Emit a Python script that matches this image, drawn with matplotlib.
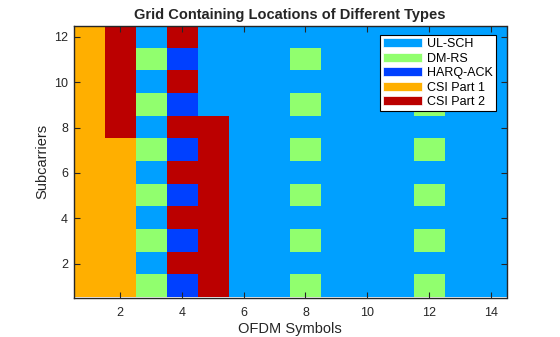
import matplotlib
matplotlib.use("Agg")
import matplotlib.pyplot as plt
from matplotlib.colors import ListedColormap
from matplotlib.patches import Patch

plt.rcParams["font.family"] = ["Liberation Sans", "DejaVu Sans"]

# resource types, in code order 0..4
type_names = ["UL-SCH", "DM-RS", "HARQ-ACK", "CSI Part 1", "CSI Part 2"]
type_colors = ["#00A0FF", "#91FF6E", "#0040FF", "#FFAF00", "#BB0000"]

# grid of type codes, row 1 (subcarrier 1) first, columns = OFDM symbols 1..14
grid = [
    [3, 3, 1, 2, 4, 0, 0, 1, 0, 0, 0, 1, 0, 0],
    [3, 3, 0, 4, 4, 0, 0, 0, 0, 0, 0, 0, 0, 0],
    [3, 3, 1, 2, 4, 0, 0, 1, 0, 0, 0, 1, 0, 0],
    [3, 3, 0, 4, 4, 0, 0, 0, 0, 0, 0, 0, 0, 0],
    [3, 3, 1, 2, 4, 0, 0, 1, 0, 0, 0, 1, 0, 0],
    [3, 3, 0, 4, 4, 0, 0, 0, 0, 0, 0, 0, 0, 0],
    [3, 3, 1, 2, 4, 0, 0, 1, 0, 0, 0, 1, 0, 0],
    [3, 4, 0, 4, 4, 0, 0, 0, 0, 0, 0, 0, 0, 0],
    [3, 4, 1, 2, 0, 0, 0, 1, 0, 0, 0, 1, 0, 0],
    [3, 4, 0, 4, 0, 0, 0, 0, 0, 0, 0, 0, 0, 0],
    [3, 4, 1, 2, 0, 0, 0, 1, 0, 0, 0, 1, 0, 0],
    [3, 4, 0, 4, 0, 0, 0, 0, 0, 0, 0, 0, 0, 0],
]
n_rows = len(grid)
n_cols = len(grid[0])

fig = plt.figure(figsize=(5.6, 3.37), dpi=100)
ax = fig.add_axes([73.5 / 560, 1 - 297.5 / 337, (506.5 - 73.5) / 560, (297.5 - 25.5) / 337])

cmap = ListedColormap(type_colors)
ax.imshow(grid, cmap=cmap, vmin=-0.5, vmax=len(type_colors) - 0.5, origin="lower",
          extent=[0.5, n_cols + 0.5, 0.5, n_rows + 0.5], aspect="auto", interpolation="nearest")

ax.set_xticks(range(2, n_cols + 1, 2))
ax.set_yticks(range(2, n_rows + 1, 2))
ax.tick_params(direction="in", top=True, right=True, length=4, width=0.8,
               labelsize=9, colors="#262626")
ax.tick_params(axis="x", pad=7)
ax.tick_params(axis="y", pad=4)
for s in ax.spines.values():
    s.set_linewidth(1.0)
    s.set_color("#262626")

ax.set_xlabel("OFDM Symbols", fontsize=10.5, color="#262626", labelpad=2)
ax.set_ylabel("Subcarriers", fontsize=10.5, color="#262626", labelpad=3)
ax.set_title("Grid Containing Locations of Different Types", fontsize=10.5,
             fontweight="bold", color="#262626", pad=5)

handles = [Patch(facecolor=c, edgecolor="white", linewidth=0.5, label=n)
           for c, n in zip(type_colors, type_names)]
leg = ax.legend(handles=handles, loc="upper right", fontsize=9, fancybox=False,
                framealpha=1, edgecolor="black", handlelength=3.1, handleheight=0.7,
                handletextpad=0.4, labelspacing=0.2, borderpad=0.25, borderaxespad=0,
                bbox_to_anchor=(496 / 560, 1 - 35 / 337), bbox_transform=fig.transFigure)
leg.get_frame().set_linewidth(0.8)

fig.savefig("out.png", dpi=100)
